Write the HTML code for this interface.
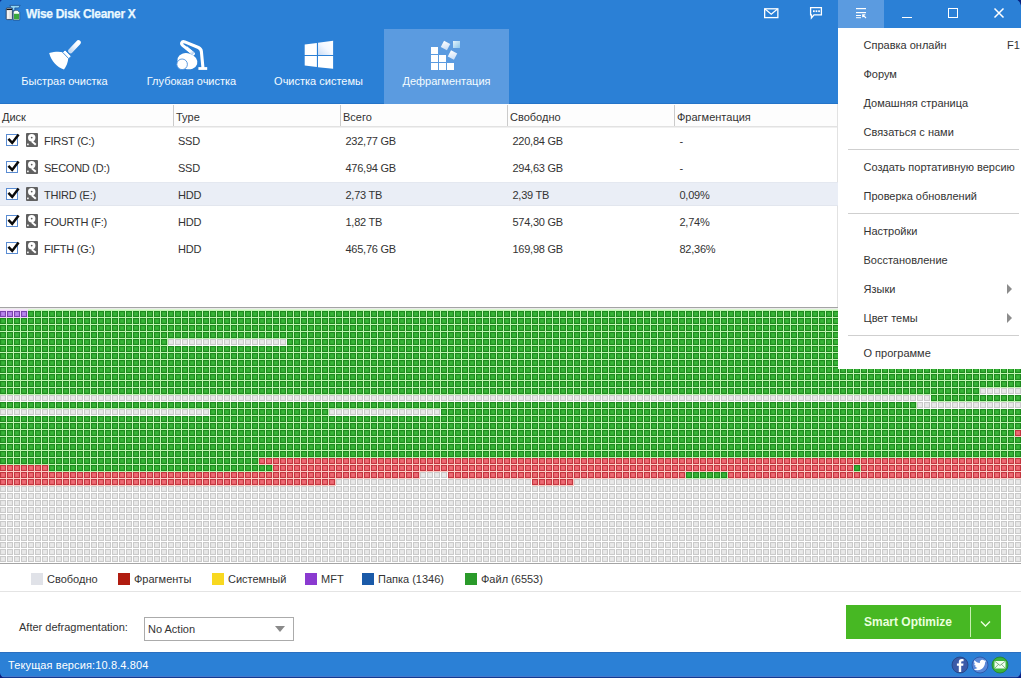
<!DOCTYPE html>
<html><head><meta charset="utf-8"><title>Wise Disk Cleaner X</title>
<style>
*{margin:0;padding:0;box-sizing:border-box}
html,body{width:1021px;height:678px;overflow:hidden;background:#fff}
body{position:relative;font-family:"Liberation Sans",sans-serif;font-size:11px;color:#333}
.a{position:absolute}
.t{position:absolute;white-space:nowrap;line-height:1}
#top{left:0;top:0;width:1021px;height:104px;background:#2b80d6}
.lbl{position:absolute;top:76px;width:125px;text-align:center;color:#f4fbff;font-size:11px;line-height:1;white-space:nowrap}
.th{position:absolute;top:112px;color:#333;font-size:11px;line-height:1}
.vd{position:absolute;top:105px;width:1px;height:21px;background:#cbcbcb}
.row{position:absolute;left:0;width:838px;height:27px}
.cb{position:absolute;left:6px;width:12px;height:12px;border:1px solid #5a8cd2;background:#fff}
.dr{position:absolute;left:26px;width:12px;height:14px;background:#616161;border-radius:1px}
.cell{position:absolute;font-size:11px;line-height:1;color:#333;white-space:nowrap;letter-spacing:-0.25px}
.lg{position:absolute;top:573px;width:12px;height:12px}
.lt{position:absolute;top:574px;font-size:11px;line-height:1;color:#333;white-space:nowrap}
#menu{left:838px;top:28px;width:183px;height:341px;background:#fff}
.mi{position:absolute;left:25.5px;font-size:11px;line-height:1;color:#333;white-space:nowrap}
.ms{position:absolute;left:10px;width:171px;height:1px;background:#cfcfcf}
.arr{position:absolute;left:169px;width:0;height:0;border-top:5px solid transparent;border-bottom:5px solid transparent;border-left:5.5px solid #8c8c8c}
</style></head><body>

<!-- header -->
<div id="top" class="a">
  <!-- app icon -->
  <svg class="a" style="left:0;top:0" width="24" height="24" viewBox="0 0 24 24">
    <rect x="6.2" y="8" width="6.2" height="11.6" rx="1" fill="#e4e4e4" stroke="#2a3a55" stroke-width="0.8"/>
    <rect x="6.6" y="8.8" width="5.4" height="1.2" fill="#111"/>
    <rect x="7.2" y="11" width="1.5" height="7.5" fill="#f8f8f8"/>
    <path d="M9.8 5.4 L20.2 5.4 L18.6 7.9 L14.8 7.9 L14.8 10.4 L12.4 10.4 L12.4 7.9 L11.2 7.9 Z" fill="#92d6f4" stroke="#1a4a8a" stroke-width="0.7"/>
    <path d="M13.2 11.8 L15 10.3 L17.5 10.3 L19.7 12.5 L19.7 20 L13.2 20 Z" fill="#f4fff4" stroke="#1c3c6c" stroke-width="0.7"/>
    <rect x="14" y="13.8" width="5" height="5.5" fill="#3aa83a"/>
  </svg>
  <div class="t" style="left:26px;top:7.7px;font-weight:bold;font-size:12px;letter-spacing:-0.3px;color:#eaf8ff;-webkit-text-stroke:0.25px #eaf8ff">Wise Disk Cleaner X</div>

  <!-- envelope -->
  <svg class="a" style="left:763px;top:7px" width="17" height="13" viewBox="0 0 17 13">
    <rect x="1.65" y="1.8" width="13.2" height="8.8" fill="none" stroke="#fff" stroke-width="1.3"/>
    <path d="M2 2 L8.25 7.2 L14.5 2" fill="none" stroke="#fff" stroke-width="1.2"/>
  </svg>
  <!-- chat -->
  <svg class="a" style="left:809px;top:6px" width="15" height="14" viewBox="0 0 15 14">
    <path d="M1.6 1.6 H12.4 V8.8 H5 L2.4 12 V8.8 H1.6 Z" fill="none" stroke="#fff" stroke-width="1.3" stroke-linejoin="miter"/>
    <rect x="4" y="4.3" width="1.7" height="1.8" fill="#fff"/><rect x="6.6" y="4.3" width="1.7" height="1.8" fill="#fff"/><rect x="9.2" y="4.3" width="1.7" height="1.8" fill="#fff"/>
  </svg>
  <!-- menu button active -->
  <div class="a" style="left:838px;top:0;width:46px;height:28px;background:#5b9be0"></div>
  <svg class="a" style="left:855px;top:7px" width="13" height="12" viewBox="0 0 13 12">
    <rect x="1" y="1" width="10" height="1.2" fill="#fff"/>
    <rect x="1" y="5" width="10" height="1.2" fill="#fff"/>
    <rect x="1" y="8" width="5" height="1" fill="#fff"/>
    <rect x="1" y="10.2" width="5" height="1" fill="#fff"/>
    <path d="M7.7 7.3 L7.7 10.2 M7.1 7.7 L10.3 7.7 M7.9 7.9 L11 11" stroke="#fff" stroke-width="1.1" fill="none"/>
  </svg>
  <!-- minimize -->
  <div class="a" style="left:902px;top:16.6px;width:10px;height:1.3px;background:#fff"></div>
  <!-- maximize -->
  <div class="a" style="left:948px;top:8px;width:10px;height:10px;border:1.5px solid #fff"></div>
  <!-- close -->
  <svg class="a" style="left:993px;top:7px" width="12" height="12" viewBox="0 0 12 12">
    <path d="M1.5 1.5 L10.5 10.5 M10.5 1.5 L1.5 10.5" stroke="#fff" stroke-width="1.5"/>
  </svg>

  <!-- tabs -->
  <div class="a" style="left:384px;top:29px;width:125px;height:75px;background:#5b9be0"></div>
  <div class="lbl" style="left:2px">Быстрая очистка</div>
  <div class="lbl" style="left:129px">Глубокая очистка</div>
  <div class="lbl" style="left:256px">Очистка системы</div>
  <div class="lbl" style="left:384px">Дефрагментация</div>
  <!-- broom: origin (47,40) -->
  <svg class="a" style="left:47px;top:40px" width="34" height="32" viewBox="0 0 34 32">
    <defs><linearGradient id="bh" x1="1" y1="0" x2="0" y2="1"><stop offset="0" stop-color="#fff"/><stop offset="0.4" stop-color="#f4f8fe"/><stop offset="1" stop-color="#c4daf3"/></linearGradient></defs>
    <path d="M31.4 2.6 L23.6 10.9" stroke="url(#bh)" stroke-width="4.8" stroke-linecap="round"/>
    <path d="M2.2 13 C7.5 11.6 12.5 11.5 16.2 12.3 L21.4 17.6 C21.1 22.3 19.2 26.6 17 29.6 C10.2 27.3 4.2 21.4 2.2 13 Z" fill="#fff"/>
    <rect x="-4.4" y="-1.7" width="8.8" height="3.4" fill="#fff" stroke="#2b80d6" stroke-width="0.8" transform="translate(19.9 14.3) rotate(46)"/>
  </svg>
  <!-- vacuum: origin (174,38) -->
  <svg class="a" style="left:174px;top:38px" width="36" height="34" viewBox="0 0 36 34">
    <defs><linearGradient id="vh" x1="0" y1="0" x2="1" y2="1"><stop offset="0" stop-color="#fff"/><stop offset="0.6" stop-color="#fff"/><stop offset="1" stop-color="#a9c9ee"/></linearGradient></defs>
    <path d="M19.4 15.8 L8.9 7.6 C6.6 5.6 7.6 3 10.8 3.9 L24.4 9.5 C26.4 10.4 27.2 11.6 27.4 13.6 L28.9 29.4" fill="none" stroke="#fff" stroke-width="3.1" stroke-linecap="round" stroke-linejoin="round"/>
    <path d="M19.4 15.8 L12 9.5" fill="none" stroke="url(#vh)" stroke-width="3.1"/>
    <rect x="24.4" y="29.1" width="8.8" height="2.8" fill="#fff"/>
    <ellipse cx="13.4" cy="23.2" rx="10.2" ry="7.9" fill="#fff" transform="rotate(18 13.4 23.2)"/>
    <circle cx="8.1" cy="26.3" r="5.3" fill="#fff" stroke="#4a8fdc" stroke-width="0.9"/>
  </svg>
  <!-- windows: origin (304,40) -->
  <svg class="a" style="left:304px;top:40px" width="30" height="30" viewBox="0 0 30 30">
    <defs><linearGradient id="wg" x1="0" y1="1" x2="1" y2="0"><stop offset="0" stop-color="#c8dcf6"/><stop offset="0.5" stop-color="#f4f8ff"/><stop offset="1" stop-color="#fff"/></linearGradient></defs>
    <path d="M0.7 4.4 L12.9 2.9 L12.9 15 L0.7 15 Z" fill="#fff"/>
    <path d="M14 2.8 L29.1 0.7 L29.1 15 L14 15 Z" fill="url(#wg)"/>
    <path d="M0.7 16 L12.9 16 L12.9 27.1 L0.7 25.5 Z" fill="#fff"/>
    <path d="M14 16 L29.1 16 L29.1 28.7 L14 27.2 Z" fill="#fff"/>
  </svg>
  <!-- defrag: origin (430,40) -->
  <svg class="a" style="left:430px;top:40px" width="32" height="31" viewBox="0 0 32 31">
    <defs>
      <linearGradient id="dg1" x1="0" y1="0" x2="1" y2="1"><stop offset="0" stop-color="#fff"/><stop offset="1" stop-color="#c6dcf6"/></linearGradient>
      <linearGradient id="dg2" x1="0" y1="0" x2="1" y2="1"><stop offset="0" stop-color="#e4f4fb"/><stop offset="1" stop-color="#8cc6ec"/></linearGradient>
    </defs>
    <rect x="1" y="7" width="7" height="7" fill="#fff"/>
    <rect x="1" y="15" width="7" height="7" fill="#fff"/>
    <rect x="9" y="15" width="7" height="7" fill="#fff"/>
    <rect x="1" y="23" width="7" height="7" fill="#fff"/>
    <rect x="9" y="23" width="7" height="7" fill="#fff"/>
    <rect x="17" y="23" width="7" height="7" fill="#fff"/>
    <rect x="12" y="2" width="7" height="7" fill="url(#dg1)" transform="rotate(28 15.5 5.5)"/>
    <rect x="19" y="11.5" width="7" height="7" fill="url(#dg1)" transform="rotate(28 22.5 15)"/>
    <rect x="23" y="1" width="7" height="7" fill="url(#dg2)"/>
  </svg>
</div>

<!-- table header -->
<div class="a" style="left:0;top:104px;width:837px;height:22px;background:#fdfdfd"></div>
<div class="a" style="left:0;top:103px;width:384px;height:1px;background:#2474c8"></div><div class="a" style="left:509px;top:103px;width:329px;height:1px;background:#2474c8"></div>
<div class="th" style="left:2px">Диск</div>
<div class="vd" style="left:173px"></div>
<div class="th" style="left:176px">Type</div>
<div class="vd" style="left:340px"></div>
<div class="th" style="left:343px">Всего</div>
<div class="vd" style="left:507px"></div>
<div class="th" style="left:510px">Свободно</div>
<div class="vd" style="left:674px"></div>
<div class="th" style="left:677px">Фрагментация</div>
<div class="a" style="left:0;top:126px;width:837px;height:1px;background:#e2e2e2"></div>
<div class="a" style="left:0;top:127px;width:838px;height:1px;background:#f0f0f0"></div>

<!-- rows -->
<div class="a" style="left:837px;top:104px;width:1px;height:203px;background:#e2e2e2"></div>
<div class="row" style="top:182px;height:24px;background:#eaeef6;border-top:1px solid #e4e8f0;border-bottom:1px solid #e2e6ee"></div>

<div class="cb" style="top:134px"><svg width="14" height="14" viewBox="0 -2 14 14" style="position:absolute;left:0;top:-2px;overflow:visible"><path d="M1.4 3.9 L5.2 7.9 L11.6 -0.6" fill="none" stroke="#0a0a0a" stroke-width="2.5" stroke-linejoin="miter"/></svg></div>
<div class="dr" style="top:133px"><svg width="12" height="14" viewBox="0 0 12 14" style="position:absolute;left:0;top:0"><circle cx="5.7" cy="4.8" r="3.7" fill="#fff"/><circle cx="5.7" cy="4.6" r="0.9" fill="#5e5e5e"/><path d="M5.8 8.2 L9.8 11.8" stroke="#fff" stroke-width="1.9"/><rect x="1.1" y="10.6" width="1.6" height="1.6" fill="#fff"/></svg></div>
<div class="cell" style="left:44px;top:135.7px">FIRST (C:)</div>
<div class="cell" style="left:178px;top:135.7px">SSD</div>
<div class="cell" style="left:345.5px;top:135.7px">232,77 GB</div>
<div class="cell" style="left:512.5px;top:135.7px">220,84 GB</div>
<div class="cell" style="left:679.5px;top:135.7px">-</div>
<div class="cb" style="top:161px"><svg width="14" height="14" viewBox="0 -2 14 14" style="position:absolute;left:0;top:-2px;overflow:visible"><path d="M1.4 3.9 L5.2 7.9 L11.6 -0.6" fill="none" stroke="#0a0a0a" stroke-width="2.5" stroke-linejoin="miter"/></svg></div>
<div class="dr" style="top:160px"><svg width="12" height="14" viewBox="0 0 12 14" style="position:absolute;left:0;top:0"><circle cx="5.7" cy="4.8" r="3.7" fill="#fff"/><circle cx="5.7" cy="4.6" r="0.9" fill="#5e5e5e"/><path d="M5.8 8.2 L9.8 11.8" stroke="#fff" stroke-width="1.9"/><rect x="1.1" y="10.6" width="1.6" height="1.6" fill="#fff"/></svg></div>
<div class="cell" style="left:44px;top:162.7px">SECOND (D:)</div>
<div class="cell" style="left:178px;top:162.7px">SSD</div>
<div class="cell" style="left:345.5px;top:162.7px">476,94 GB</div>
<div class="cell" style="left:512.5px;top:162.7px">294,63 GB</div>
<div class="cell" style="left:679.5px;top:162.7px">-</div>
<div class="cb" style="top:188px"><svg width="14" height="14" viewBox="0 -2 14 14" style="position:absolute;left:0;top:-2px;overflow:visible"><path d="M1.4 3.9 L5.2 7.9 L11.6 -0.6" fill="none" stroke="#0a0a0a" stroke-width="2.5" stroke-linejoin="miter"/></svg></div>
<div class="dr" style="top:187px"><svg width="12" height="14" viewBox="0 0 12 14" style="position:absolute;left:0;top:0"><circle cx="5.7" cy="4.8" r="3.7" fill="#fff"/><circle cx="5.7" cy="4.6" r="0.9" fill="#5e5e5e"/><path d="M5.8 8.2 L9.8 11.8" stroke="#fff" stroke-width="1.9"/><rect x="1.1" y="10.6" width="1.6" height="1.6" fill="#fff"/></svg></div>
<div class="cell" style="left:44px;top:189.7px">THIRD (E:)</div>
<div class="cell" style="left:178px;top:189.7px">HDD</div>
<div class="cell" style="left:345.5px;top:189.7px">2,73 TB</div>
<div class="cell" style="left:512.5px;top:189.7px">2,39 TB</div>
<div class="cell" style="left:679.5px;top:189.7px">0,09%</div>
<div class="cb" style="top:215px"><svg width="14" height="14" viewBox="0 -2 14 14" style="position:absolute;left:0;top:-2px;overflow:visible"><path d="M1.4 3.9 L5.2 7.9 L11.6 -0.6" fill="none" stroke="#0a0a0a" stroke-width="2.5" stroke-linejoin="miter"/></svg></div>
<div class="dr" style="top:214px"><svg width="12" height="14" viewBox="0 0 12 14" style="position:absolute;left:0;top:0"><circle cx="5.7" cy="4.8" r="3.7" fill="#fff"/><circle cx="5.7" cy="4.6" r="0.9" fill="#5e5e5e"/><path d="M5.8 8.2 L9.8 11.8" stroke="#fff" stroke-width="1.9"/><rect x="1.1" y="10.6" width="1.6" height="1.6" fill="#fff"/></svg></div>
<div class="cell" style="left:44px;top:216.7px">FOURTH (F:)</div>
<div class="cell" style="left:178px;top:216.7px">HDD</div>
<div class="cell" style="left:345.5px;top:216.7px">1,82 TB</div>
<div class="cell" style="left:512.5px;top:216.7px">574,30 GB</div>
<div class="cell" style="left:679.5px;top:216.7px">2,74%</div>
<div class="cb" style="top:242px"><svg width="14" height="14" viewBox="0 -2 14 14" style="position:absolute;left:0;top:-2px;overflow:visible"><path d="M1.4 3.9 L5.2 7.9 L11.6 -0.6" fill="none" stroke="#0a0a0a" stroke-width="2.5" stroke-linejoin="miter"/></svg></div>
<div class="dr" style="top:241px"><svg width="12" height="14" viewBox="0 0 12 14" style="position:absolute;left:0;top:0"><circle cx="5.7" cy="4.8" r="3.7" fill="#fff"/><circle cx="5.7" cy="4.6" r="0.9" fill="#5e5e5e"/><path d="M5.8 8.2 L9.8 11.8" stroke="#fff" stroke-width="1.9"/><rect x="1.1" y="10.6" width="1.6" height="1.6" fill="#fff"/></svg></div>
<div class="cell" style="left:44px;top:243.7px">FIFTH (G:)</div>
<div class="cell" style="left:178px;top:243.7px">HDD</div>
<div class="cell" style="left:345.5px;top:243.7px">465,76 GB</div>
<div class="cell" style="left:512.5px;top:243.7px">169,98 GB</div>
<div class="cell" style="left:679.5px;top:243.7px">82,36%</div>

<!-- separator above grid -->
<div class="a" style="left:0;top:307px;width:1021px;height:1px;background:#a4a4a4"></div>
<div class="a" style="left:0;top:308px;width:1021px;height:1px;background:#ececec"></div>
<div class="a" style="left:0;top:309px;width:28px;height:1px;background:#f6e4fc"></div><div class="a" style="left:28px;top:309px;width:993px;height:1px;background:#daf8d0"></div>

<svg class="a" style="left:0;top:310px" width="1021" height="253" viewBox="0 0 1021 253">
<defs><pattern id="g" width="7" height="7" patternUnits="userSpaceOnUse" y="1"><rect width="7" height="7" fill="#c0f6b2"/><rect x="0.5" y="0.5" width="5" height="5" fill="#32ac32" stroke="#1e8a1e"/><rect x="2" y="2" width="2" height="2" fill="#3ab43a"/></pattern><pattern id="r" width="7" height="7" patternUnits="userSpaceOnUse" y="1"><rect width="7" height="7" fill="#fdcdc6"/><rect x="0.5" y="0.5" width="5" height="5" fill="#e9626c" stroke="#c3363f"/><rect x="2" y="2" width="2" height="2" fill="#ec6c75"/></pattern><pattern id="w" width="7" height="7" patternUnits="userSpaceOnUse" y="1"><rect width="7" height="7" fill="#ffffff"/><rect x="0.5" y="0.5" width="5" height="5" fill="#e6e6e6" stroke="#cacaca"/><rect x="2" y="2" width="2" height="2" fill="#e9e9e9"/></pattern><pattern id="p" width="7" height="7" patternUnits="userSpaceOnUse" y="1"><rect width="7" height="7" fill="#f2d4fc"/><rect x="0.5" y="0.5" width="5" height="5" fill="#b07ce6" stroke="#7a44b0"/><rect x="2" y="2" width="2" height="2" fill="#b888ee"/></pattern></defs>
<rect x="0" y="0" width="28" height="1" fill="#f2d4fc"/>
<rect x="28" y="0" width="993" height="1" fill="#c0f6b2"/>
<rect x="0" y="1" width="28" height="7" fill="url(#p)"/>
<rect x="28" y="1" width="994" height="7" fill="url(#g)"/>
<rect x="0" y="8" width="1022" height="7" fill="url(#g)"/>
<rect x="0" y="15" width="1022" height="7" fill="url(#g)"/>
<rect x="0" y="22" width="1022" height="7" fill="url(#g)"/>
<rect x="0" y="29" width="168" height="7" fill="url(#g)"/>
<rect x="168" y="29" width="119" height="7" fill="url(#w)"/>
<rect x="287" y="29" width="735" height="7" fill="url(#g)"/>
<rect x="0" y="36" width="1022" height="7" fill="url(#g)"/>
<rect x="0" y="43" width="1022" height="7" fill="url(#g)"/>
<rect x="0" y="50" width="1022" height="7" fill="url(#g)"/>
<rect x="0" y="57" width="1022" height="7" fill="url(#g)"/>
<rect x="0" y="64" width="1022" height="7" fill="url(#g)"/>
<rect x="0" y="71" width="1022" height="7" fill="url(#g)"/>
<rect x="0" y="78" width="980" height="7" fill="url(#g)"/>
<rect x="980" y="78" width="42" height="7" fill="url(#w)"/>
<rect x="0" y="85" width="931" height="7" fill="url(#w)"/>
<rect x="931" y="85" width="91" height="7" fill="url(#g)"/>
<rect x="0" y="92" width="917" height="7" fill="url(#g)"/>
<rect x="917" y="92" width="105" height="7" fill="url(#w)"/>
<rect x="0" y="99" width="210" height="7" fill="url(#w)"/>
<rect x="210" y="99" width="119" height="7" fill="url(#g)"/>
<rect x="329" y="99" width="112" height="7" fill="url(#w)"/>
<rect x="441" y="99" width="581" height="7" fill="url(#g)"/>
<rect x="0" y="106" width="1022" height="7" fill="url(#g)"/>
<rect x="0" y="113" width="1022" height="7" fill="url(#g)"/>
<rect x="0" y="120" width="1015" height="7" fill="url(#g)"/>
<rect x="1015" y="120" width="7" height="7" fill="url(#r)"/>
<rect x="0" y="127" width="1022" height="7" fill="url(#g)"/>
<rect x="0" y="134" width="1022" height="7" fill="url(#g)"/>
<rect x="0" y="141" width="1022" height="7" fill="url(#g)"/>
<rect x="0" y="148" width="259" height="7" fill="url(#g)"/>
<rect x="259" y="148" width="763" height="7" fill="url(#r)"/>
<rect x="0" y="155" width="49" height="7" fill="url(#r)"/>
<rect x="49" y="155" width="224" height="7" fill="url(#g)"/>
<rect x="273" y="155" width="581" height="7" fill="url(#r)"/>
<rect x="854" y="155" width="7" height="7" fill="url(#g)"/>
<rect x="861" y="155" width="161" height="7" fill="url(#r)"/>
<rect x="0" y="162" width="420" height="7" fill="url(#r)"/>
<rect x="420" y="162" width="28" height="7" fill="url(#w)"/>
<rect x="448" y="162" width="238" height="7" fill="url(#r)"/>
<rect x="686" y="162" width="42" height="7" fill="url(#g)"/>
<rect x="728" y="162" width="294" height="7" fill="url(#r)"/>
<rect x="0" y="169" width="336" height="7" fill="url(#r)"/>
<rect x="336" y="169" width="196" height="7" fill="url(#w)"/>
<rect x="532" y="169" width="42" height="7" fill="url(#r)"/>
<rect x="574" y="169" width="448" height="7" fill="url(#w)"/>
<rect x="0" y="176" width="1022" height="7" fill="url(#w)"/>
<rect x="0" y="183" width="1022" height="7" fill="url(#w)"/>
<rect x="0" y="190" width="1022" height="7" fill="url(#w)"/>
<rect x="0" y="197" width="1022" height="7" fill="url(#w)"/>
<rect x="0" y="204" width="1022" height="7" fill="url(#w)"/>
<rect x="0" y="211" width="1022" height="7" fill="url(#w)"/>
<rect x="0" y="218" width="1022" height="7" fill="url(#w)"/>
<rect x="0" y="225" width="1022" height="7" fill="url(#w)"/>
<rect x="0" y="232" width="1022" height="7" fill="url(#w)"/>
<rect x="0" y="239" width="1022" height="7" fill="url(#w)"/>
<rect x="0" y="246" width="1022" height="7" fill="url(#w)"/>
</svg>
<div class="a" style="left:0;top:563px;width:1021px;height:1px;background:#a4a4a4"></div>

<!-- legend -->
<div class="lg" style="left:31px;background:#e0e2e8"></div><div class="lt" style="left:47px">Свободно</div>
<div class="lg" style="left:118px;background:#b01c10"></div><div class="lt" style="left:134px">Фрагменты</div>
<div class="lg" style="left:212px;background:#f8d820"></div><div class="lt" style="left:228px">Системный</div>
<div class="lg" style="left:305px;background:#8a3ad0"></div><div class="lt" style="left:321px">MFT</div>
<div class="lg" style="left:362px;background:#1a5aa8"></div><div class="lt" style="left:378px">Папка (1346)</div>
<div class="lg" style="left:465px;background:#2a9a2a"></div><div class="lt" style="left:481px">Файл (6553)</div>
<div class="a" style="left:0;top:591px;width:1021px;height:1px;background:#e4e4e4"></div>

<!-- bottom controls -->
<div class="t" style="left:19px;top:622px;font-size:11px;color:#333">After defragmentation:</div>
<div class="a" style="left:144px;top:617px;width:150px;height:24px;border:1px solid #ababab;background:#fff"></div>
<div class="t" style="left:148px;top:624px;font-size:11px;color:#333">No Action</div>
<div class="a" style="left:275px;top:626px;width:0;height:0;border-left:5px solid transparent;border-right:5px solid transparent;border-top:6px solid #8a8a8a"></div>

<div class="a" style="left:846px;top:605px;width:155px;height:34px;background:#47b823"></div>
<div class="a" style="left:970px;top:607px;width:1px;height:30px;background:#c8f0b0"></div>
<div class="t" style="left:864px;top:616px;font-weight:bold;font-size:12px;color:#eaffdd">Smart Optimize</div>
<svg class="a" style="left:980px;top:620px" width="11" height="8" viewBox="0 0 11 8"><path d="M1 1.5 L5.5 6 L10 1.5" fill="none" stroke="#eaffdd" stroke-width="1.4"/></svg>

<!-- status bar -->
<div class="a" style="left:0;top:652px;width:1021px;height:24px;background:#2b80d6"></div>
<div class="a" style="left:0;top:652px;width:1021px;height:1px;background:#2a6fc0"></div>
<div class="t" style="left:8px;top:660px;font-size:11px;letter-spacing:0.12px;color:#fff">Текущая версия:10.8.4.804</div>
<svg class="a" style="left:951px;top:656px" width="60" height="18" viewBox="0 0 60 18">
  <circle cx="9" cy="9" r="8" fill="#3b5aa8" stroke="#26407c" stroke-width="0.8"/>
  <path d="M10.2 16 V9.8 H12.2 L12.5 7.6 H10.2 V6.3 C10.2 5.6 10.5 5.2 11.3 5.2 H12.6 V3.2 C12 3.1 11.3 3 10.6 3 C8.8 3 7.8 4.1 7.8 6 V7.6 H5.9 V9.8 H7.8 V16 Z" fill="#fff"/>
  <circle cx="29" cy="9" r="8" fill="#5a88d8" stroke="#2a50a0" stroke-width="0.8"/>
  <path transform="translate(22.6 2.6) scale(0.53)" d="M23.954 4.569a10 10 0 0 1-2.825.775 4.958 4.958 0 0 0 2.163-2.723c-.951.555-2.005.959-3.127 1.184a4.920 4.920 0 0 0-8.384 4.482C7.691 8.094 4.066 6.130 1.640 3.161a4.822 4.822 0 0 0-.666 2.475c0 1.710.870 3.213 2.188 4.096a4.904 4.904 0 0 1-2.228-.616v.061a4.923 4.923 0 0 0 3.946 4.827 4.996 4.996 0 0 1-2.212.085 4.937 4.937 0 0 0 4.604 3.417 9.868 9.868 0 0 1-6.102 2.105c-.39 0-.779-.023-1.170-.067a13.995 13.995 0 0 0 7.557 2.209c9.054 0 13.999-7.496 13.999-13.986 0-.209 0-.42-.015-.63a9.936 9.936 0 0 0 2.460-2.548l-.047-.020z" fill="#fff"/>
  <circle cx="49" cy="9" r="8" fill="#3cb43c" stroke="#23802a" stroke-width="0.8"/>
  <rect x="43.5" y="5" width="11" height="7.5" fill="#f0fff0"/>
  <path d="M43.5 5 L49 9.5 L54.5 5 M43.5 12.5 L47.5 8.3 M54.5 12.5 L50.5 8.3" fill="none" stroke="#3a7a3a" stroke-width="0.6"/>
</svg>
<div class="a" style="left:0;top:676px;width:1021px;height:1px;background:#4479cc"></div><div class="a" style="left:0;top:677px;width:1021px;height:1px;background:#123a92"></div>

<!-- dropdown menu -->
<div id="menu" class="a">
  <div class="mi" style="top:12px">Справка онлайн</div>
  <div class="mi" style="top:12px;left:169px">F1</div>
  <div class="mi" style="top:41px">Форум</div>
  <div class="mi" style="top:70px">Домашняя страница</div>
  <div class="mi" style="top:99px">Связаться с нами</div>
  <div class="ms" style="top:121px"></div>
  <div class="mi" style="top:134px">Создать портативную версию</div>
  <div class="mi" style="top:163px">Проверка обновлений</div>
  <div class="ms" style="top:185px"></div>
  <div class="mi" style="top:198px">Настройки</div>
  <div class="mi" style="top:227px">Восстановление</div>
  <div class="mi" style="top:256px">Языки</div>
  <div class="arr" style="top:256px"></div>
  <div class="mi" style="top:285px">Цвет темы</div>
  <div class="arr" style="top:285px"></div>
  <div class="ms" style="top:307px"></div>
  <div class="mi" style="top:320px">О программе</div>
</div>

<svg class="a" style="left:0;top:0" width="3" height="3"><path d="M0 0 H2.2 Q0.6 0.6 0 2.2 Z" fill="#0a2a8a"/></svg>
<svg class="a" style="left:1016px;top:0" width="5" height="6"><path d="M5 0 V5.5 Q4.2 1.5 1.5 0 Z" fill="#06207e"/></svg>
<svg class="a" style="left:0;top:673px" width="4" height="5"><path d="M0 5 V0 Q0.6 3.6 4 5 Z" fill="#0a1f7e"/></svg>
<svg class="a" style="left:1016px;top:671px" width="5" height="7"><path d="M5 0 V7 H0 Q4.2 5.6 5 0 Z" fill="#081e84"/></svg>
</body></html>
